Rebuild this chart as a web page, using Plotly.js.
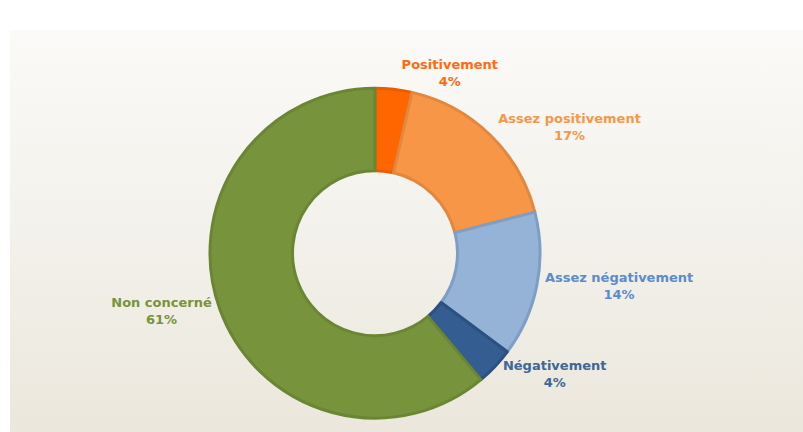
<!DOCTYPE html>
<html>
<head>
<meta charset="utf-8">
<script src="https://cdn.plot.ly/plotly-3.0.1.min.js"></script>
<style>
  html, body { margin: 0; padding: 0; background: #ffffff; }
  #chart { width: 803px; height: 432px; }
</style>
</head>
<body>
<div id="chart"></div>
<script>
// Slices, clockwise from 12 o'clock
let labels = ["Positivement", "Assez positivement", "Assez négativement", "Négativement", "Non concerné"];
let values = [3.6, 17.4, 14.2, 3.7, 61.1];

let fillColors = ["#ff6600", "#f79646", "#95b3d7", "#345e92", "#77933c"];
let edgeColors = ["#e95d00", "#e2883e", "#7f9ec5", "#2c5082", "#6a8634"];
let textColors = ["#ff6a10", "#f79646", "#5a8ccb", "#3d6699", "#77933c"];

// background panel with a soft vertical gradient
let panel = {
    x: [0, 1, 1, 0, 0],
    y: [0, 0, 1, 1, 0],
    type: 'scatter',
    mode: 'none',
    fill: 'toself',
    fillgradient: {
        type: 'vertical',
        colorscale: [[0, '#ebe7dc'], [0.5, '#f3f1eb'], [1, '#fbfaf8']]
    },
    hoverinfo: 'skip',
    showlegend: false
};

let donut = {
    type: 'pie',
    labels: labels,
    values: values,
    hole: 0.5,
    sort: false,
    direction: 'clockwise',
    rotation: 0,
    textposition: 'outside',
    texttemplate: '%{label}<br>%{percent:.0%}',
    textfont: { family: '"DejaVu Sans", sans-serif', size: 13, weight: 'bold', color: textColors },
    marker: {
        colors: fillColors,
        line: { color: edgeColors, width: 3 }
    },
    domain: { x: [0.2615, 0.6725], y: [0.032, 0.796] },
    showlegend: false
};

let layout = {
    width: 803,
    height: 432,
    margin: { l: 0, r: 0, t: 0, b: 0 },
    paper_bgcolor: '#ffffff',
    plot_bgcolor: 'rgba(0,0,0,0)',
    xaxis: { domain: [10 / 803, 1], range: [0, 1], visible: false, fixedrange: true },
    yaxis: { domain: [0, 402 / 432], range: [0, 1], visible: false, fixedrange: true },
    showlegend: false
};

Plotly.newPlot('chart', [panel, donut], layout, { displayModeBar: false, staticPlot: true });
</script>
</body>
</html>
